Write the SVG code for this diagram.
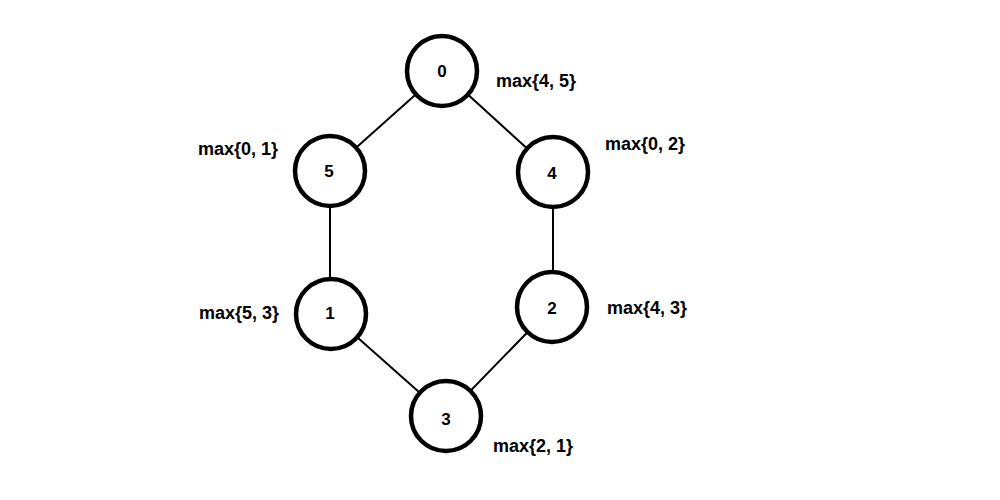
<svg xmlns="http://www.w3.org/2000/svg" width="1000" height="500" viewBox="0 0 1000 500">
  <style>
    .edge { stroke: #000; stroke-width: 2; }
    .node circle { fill: #fff; stroke: #000; stroke-width: 4.5; }
    .node text { font-family: "Liberation Sans", Arial, sans-serif; font-size: 17px; font-weight: bold; text-anchor: middle; fill: #000; }
    .lbl { font-family: "Liberation Sans", Arial, sans-serif; font-size: 18px; font-weight: bold; fill: #000; }
  </style>
  <rect width="1000" height="500" fill="#fff"/>
  <g id="edges">
    <line class="edge" x1="442" y1="71" x2="330" y2="171"/>
    <line class="edge" x1="442" y1="71" x2="553" y2="172"/>
    <line class="edge" x1="330" y1="171" x2="330" y2="314"/>
    <line class="edge" x1="553" y1="172" x2="553" y2="307"/>
    <line class="edge" x1="331" y1="314" x2="446" y2="416"/>
    <line class="edge" x1="552" y1="307" x2="446" y2="416"/>
  </g>
  <g id="node0" class="node"><circle cx="442" cy="71" r="35"/><text x="442" y="77">0</text></g>
  <g id="node5" class="node"><circle cx="330" cy="171" r="35"/><text x="329" y="177">5</text></g>
  <g id="node4" class="node"><circle cx="553" cy="172" r="35"/><text x="552" y="179">4</text></g>
  <g id="node1" class="node"><circle cx="331" cy="314" r="35"/><text x="330" y="319">1</text></g>
  <g id="node2" class="node"><circle cx="552" cy="307" r="35"/><text x="552" y="314">2</text></g>
  <g id="node3" class="node"><circle cx="446" cy="416" r="35"/><text x="446" y="425">3</text></g>
  <g id="labels">
    <text class="lbl" x="496" y="87">max{4, 5}</text>
    <text class="lbl" x="198" y="155">max{0, 1}</text>
    <text class="lbl" x="605" y="150">max{0, 2}</text>
    <text class="lbl" x="199" y="319">max{5, 3}</text>
    <text class="lbl" x="607" y="314">max{4, 3}</text>
    <text class="lbl" x="493" y="452">max{2, 1}</text>
  </g>
</svg>
